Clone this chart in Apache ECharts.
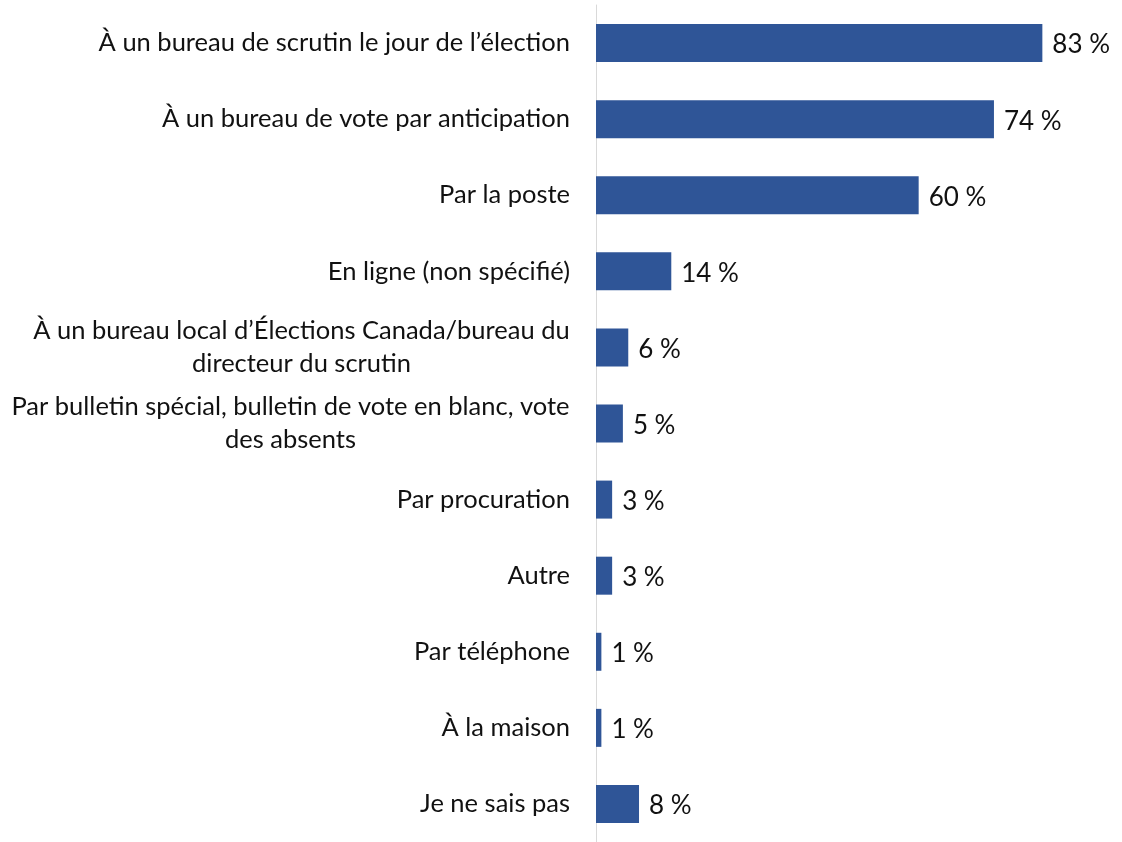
<!DOCTYPE html>
<html>
<head>
<meta charset="utf-8">
<script src="https://cdn.jsdelivr.net/npm/echarts@6/dist/echarts.min.js"></script>
<style>
  html, body { margin: 0; padding: 0; background: #fff; }
  #chart { width: 1122px; height: 842px; }
</style>
</head>
<body>
<div id="chart"></div>
<script>
  const categories = [
    "À un bureau de scrutin le jour de l’élection",
    "À un bureau de vote par anticipation",
    "Par la poste",
    "En ligne (non spécifié)",
    "À un bureau local d’Élections Canada/bureau du\ndirecteur du scrutin",
    "Par bulletin spécial, bulletin de vote en blanc, vote\ndes absents",
    "Par procuration",
    "Autre",
    "Par téléphone",
    "À la maison",
    "Je ne sais pas"
  ];
  const values = [83, 74, 60, 14, 6, 5, 3, 3, 1, 1, 8];

  const labelFont = "25.5px Lato";
  const ctx = document.createElement("canvas").getContext("2d");
  ctx.font = labelFont;

  // wrapped labels: lines centred on each other, block right-aligned to the axis
  function wrapLabel(text) {
    const lines = text.split("\n");
    if (lines.length === 1) return text;
    const w = Math.ceil(Math.max(...lines.map(l => ctx.measureText(l).width)));
    return lines.map(l => "{c" + w + "|" + l + "}").join("\n");
  }
  const rich = {};
  categories.forEach(c => {
    const lines = c.split("\n");
    if (lines.length > 1) {
      const w = Math.ceil(Math.max(...lines.map(l => ctx.measureText(l).width)));
      rich["c" + w] = { width: w, align: "center", fontFamily: "Lato", fontSize: 25.5, lineHeight: 33, color: "#111" };
    }
  });

  const myChart = echarts.init(document.getElementById('chart'));
  const option = {
    animation: false,
    grid: {
      left: 596,
      top: 5,
      width: 484,
      height: 846
    },
    xAxis: {
      type: "value",
      min: 0,
      max: 90,
      show: false
    },
    yAxis: {
      type: "category",
      data: categories,
      inverse: true,
      axisLine: { show: true, lineStyle: { color: "#d9d9d9", width: 1 } },
      axisTick: { show: false },
      axisLabel: {
        margin: 26,
        fontFamily: "Lato",
        fontSize: 25.5,
        lineHeight: 33,
        color: "#111",
        align: "right",
        formatter: wrapLabel,
        rich
      }
    },
    series: [{
      type: "bar",
      data: values,
      barWidth: 38,
      itemStyle: { color: "#2f5597" },
      label: {
        show: true,
        position: "right",
        distance: 10,
        fontFamily: "Lato",
        fontSize: 26,
        color: "#111",
        offset: [0, 2],
        formatter: p => p.value + " %"
      }
    }]
  };
  myChart.setOption(option);
</script>
</body>
</html>
